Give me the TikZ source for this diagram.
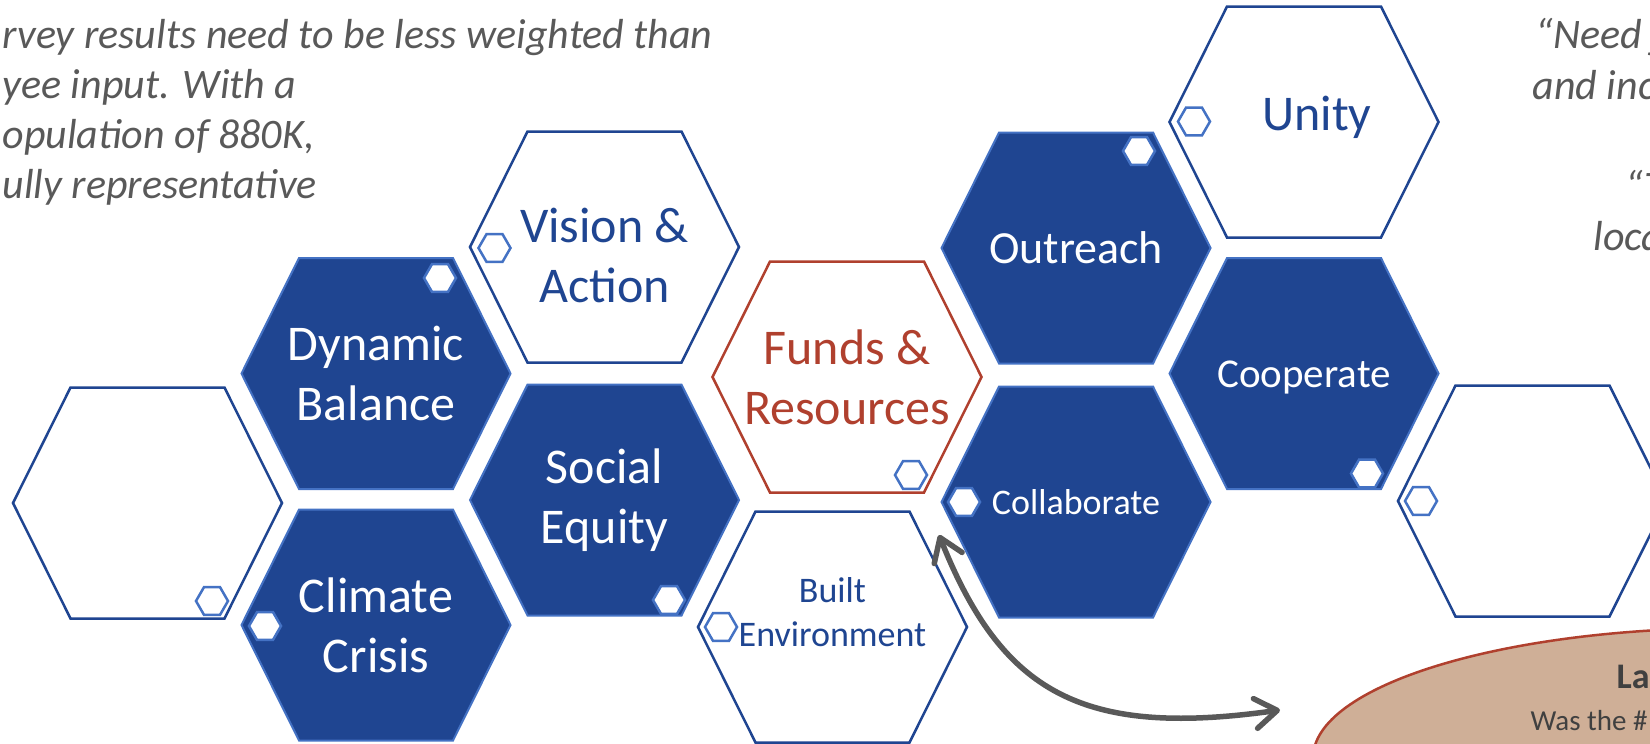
\documentclass[tikz,border=0pt]{standalone}
\usepackage{fontspec}
\setmainfont{Carlito}
\usetikzlibrary{shapes.geometric,arrows.meta}
\definecolor{hexblue}{HTML}{1F4591}
\definecolor{hexedge}{HTML}{4472C4}
\definecolor{fundred}{HTML}{B0402E}
\definecolor{quotegray}{HTML}{595959}
\definecolor{bubblefill}{HTML}{CFAF97}
\definecolor{bubbletext}{HTML}{404040}
\begin{document}
\begin{tikzpicture}[x=1pt,y=-1pt]
  \tikzset{
    hex/.pic={\path[pic actions] (-134.5,0) -- (-77,-115.5) -- (77,-115.5)
      -- (134.5,0) -- (77,115.5) -- (-77,115.5) -- cycle;},
    hexdark/.style={fill=hexblue,draw=hexedge,line width=2pt},
    hexlight/.style={fill=white,draw=hexblue,line width=2.5pt},
    hexfund/.style={fill=white,draw=fundred,line width=2.5pt},
    minihex/.style={regular polygon,regular polygon sides=6,minimum size=32pt,
      inner sep=0pt,draw=hexedge,fill=white,line width=2.5pt},
    darklabel/.style={text=white,align=center,font=\fontsize{50}{60}\selectfont},
    lightlabel/.style={text=hexblue,align=center,font=\fontsize{50}{60}\selectfont},
    quote/.style={text=quotegray,align=left,font=\fontsize{42}{50}\selectfont\itshape},
    linkarrow/.style={{Straight Barb[round,length=22pt,width=30pt]}-{Straight Barb[round,length=22pt,width=30pt]},
      line width=5.5pt,draw=quotegray},
  }
  \useasboundingbox (0,0) rectangle (1650,744);
  \clip (0,0) rectangle (1650,744);

  % honeycomb
  \pic[hexlight] at (147.5,503) {hex};
  \pic[hexdark]  at (376,373.5) {hex};
  \pic[hexdark]  at (376,625)   {hex};
  \pic[hexlight] at (604.5,247) {hex};
  \pic[hexdark]  at (604.5,500) {hex};
  \pic[hexfund]  at (847,377)   {hex};
  \pic[hexlight] at (832.5,627) {hex};
  \pic[hexdark]  at (1076,248)  {hex};
  \pic[hexdark]  at (1076,502)  {hex};
  \pic[hexlight] at (1304,122)  {hex};
  \pic[hexdark]  at (1304,373.5) {hex};
  \pic[hexlight] at (1532.5,501) {hex};

  \node[darklabel]  (balance)   at (376,373.5)  {Dynamic\\Balance};
  \node[darklabel]  (climate)   at (376,625)    {Climate\\Crisis};
  \node[lightlabel] (vision)    at (604.5,255)  {Vision \&\\Action};
  \node[darklabel]  (equity)    at (604.5,500)  {Social\\Equity};
  \node[lightlabel,text=fundred] (funds) at (847,377) {Funds \&\\Resources};
  \node[lightlabel,font=\fontsize{36}{44}\selectfont] (built) at (832.5,612) {Built\\Environment};
  \node[darklabel,font=\fontsize{46}{55}\selectfont]  (outreach)  at (1076,248)  {Outreach};
  \node[darklabel,font=\fontsize{36}{44}\selectfont]  (collab)    at (1076,502)  {Collaborate};
  \node[lightlabel] (unity)     at (1317,117)   {Unity};
  \node[darklabel,font=\fontsize{41}{49}\selectfont]  (cooperate) at (1304,377) {Cooperate};

  % small hexagons
  \node[minihex] (leftmark)      at (212,601)   {};
  \node[minihex] (climatemark)   at (265,626)   {};
  \node[minihex] (balancemark)   at (440,278)   {};
  \node[minihex] (visionmark)    at (494.5,248) {};
  \node[minihex] (equitymark)    at (669,600)   {};
  \node[minihex] (fundsmark)     at (911,475)   {};
  \node[minihex] (builtmark)     at (721,627)   {};
  \node[minihex] (collabmark)    at (964,502)   {};
  \node[minihex] (outreachmark)  at (1139,151)  {};
  \node[minihex] (unitymark)     at (1194,121.5) {};
  \node[minihex] (cooperatemark) at (1367,473.5) {};
  \node[minihex] (rightmark)     at (1421,501)  {};

  % quotes
  \node[quote,anchor=base west] (surveyquote) at (-1,198)
    {rvey results need to be less weighted than\\yee input. With a\\opulation of 880K,\\ully representative};
  \node[quote,anchor=base west] (needquote)  at (1532,48)  {“Need j};
  \node[quote,anchor=base west] (needquote2) at (1529,99)  {and inc};
  \node[quote,anchor=base west] (tquote)     at (1622,200) {“T};
  \node[quote,anchor=base west] (tquote2)    at (1590,250) {loca};

  % bubble
  \node[ellipse,draw=fundred,fill=bubblefill,line width=2.5pt,
    minimum width=840pt,minimum height=260pt] (bubble) at (1733,758) {};
  \node[anchor=base west,text=bubbletext,font=\fontsize{36}{43}\selectfont\bfseries]
    (bubbletitle) at (1613,688) {La};
  \node[anchor=base west,text=bubbletext,font=\fontsize{29}{35}\selectfont]
    (bubblebody) at (1527,730) {Was the \#};

  \coordinate (linkstart) at (939,535);
  \coordinate (linkend) at (1280,710);
  \draw[linkarrow] (linkstart) .. controls (1002,693) and (1082,738) .. (linkend);
\end{tikzpicture}
\end{document}
